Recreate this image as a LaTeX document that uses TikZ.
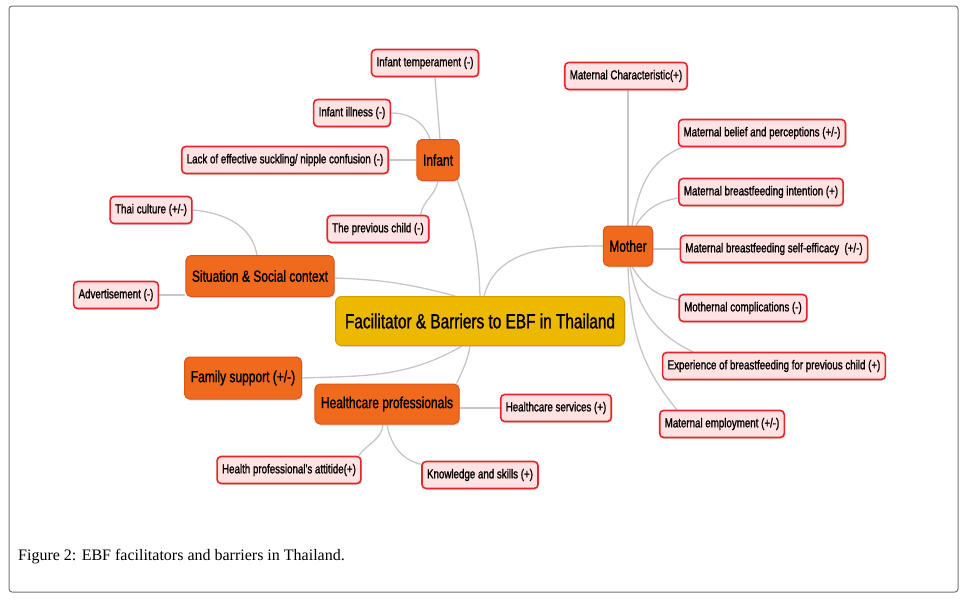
\documentclass[tikz,border=0pt]{standalone}
\usepackage{fontspec}
\setmainfont{Liberation Serif}
\newfontfamily\nodefont[FakeStretch=0.75,FakeBold=1.2]{Liberation Sans}
\usetikzlibrary{shadows,calc,backgrounds}
\definecolor{leafred}{HTML}{E3262B}
\definecolor{leaffill}{HTML}{FFE2E2}
\definecolor{hubfill}{HTML}{F06A1E}
\definecolor{hubborder}{HTML}{D8561A}
\definecolor{mainfill}{HTML}{EDB900}
\definecolor{mainborder}{HTML}{D19E00}
\definecolor{conncol}{HTML}{C6C6C6}
\begin{document}
\begin{tikzpicture}[x=1pt,y=-1pt,
  leaf/.style={draw=leafred, line width=1.6pt, fill=leaffill, rounded corners=4pt,
    inner xsep=5pt, minimum height=27pt, font=\nodefont\fontsize{13}{13}\selectfont,
    drop shadow={shadow xshift=1pt,shadow yshift=-1.5pt,fill=black!25}},
  hub/.style={draw=hubborder, line width=1pt, fill=hubfill, rounded corners=5pt,
    inner xsep=6pt, font=\nodefont\fontsize{16}{16}\selectfont,
    drop shadow={shadow xshift=1pt,shadow yshift=-1.5pt,fill=black!25}},
  mainbox/.style={draw=mainborder, line width=1pt, fill=mainfill, rounded corners=6pt,
    font=\nodefont\fontsize{20.5}{20.5}\selectfont,
    drop shadow={shadow xshift=1pt,shadow yshift=-1.5pt,fill=black!25}},
  conn/.style={draw=conncol, line width=1.3pt}]
\useasboundingbox (0,0) rectangle (968,600);
\draw[black!55, line width=1pt, rounded corners=3pt] (9,6) rectangle (958,592);

% central
\node[mainbox, minimum width=289pt, minimum height=49pt] (main) at (480,321) {Facilitator \& Barriers to EBF in Thailand};

% infant branch
\node[hub, minimum width=41pt, minimum height=41pt] (infant) at (438,160) {Infant};
\node[leaf] (temp) at (425,63) {Infant temperament (-)};
\node[leaf] (ill) at (352,113) {Infant illness (-)};
\node[leaf] (lack) at (285,160) {Lack of effective suckling/ nipple confusion (-)};
\node[leaf] (prev) at (378,229) {The previous child (-)};

% situation branch
\node[hub, minimum width=147pt, minimum height=41pt] (sit) at (260,276) {Situation \& Social context};
\node[leaf] (thai) at (151,210) {Thai culture (+/-)};
\node[leaf] (adv) at (116,295) {Advertisement (-)};

% family
\node[hub, minimum width=117pt, minimum height=42pt] (fam) at (243,378) {Family support (+/-)};

% healthcare
\node[hub, minimum width=144pt, minimum height=40pt] (hcp) at (387,404) {Healthcare professionals};
\node[leaf] (hcs) at (556,408) {Healthcare services (+)};
\node[leaf] (att) at (289,470) {Health professional's attitide(+)};
\node[leaf] (know) at (480,475) {Knowledge and skills (+)};

% mother branch
\node[hub, minimum width=47pt, minimum height=40pt] (mother) at (628,246) {Mother};
\node[leaf] (mchar) at (626,76) {Maternal Characteristic(+)};
\node[leaf] (belief) at (762,133) {Maternal belief and perceptions (+/-)};
\node[leaf] (intent) at (761,192) {Maternal breastfeeding intention (+)};
\node[leaf] (selfeff) at (774,249) {Maternal breastfeeding self-efficacy\ \ (+/-)};
\node[leaf] (comp) at (743,308) {Mothernal complications (-)};
\node[leaf] (exp) at (774,366) {Experience of breastfeeding for previous child (+)};
\node[leaf] (employ) at (722,424) {Maternal employment (+/-)};

% caption
\node[anchor=base west, inner sep=0pt, font=\fontsize{16}{16}\selectfont] (cap) at (18,560) {Figure 2: EBF facilitators and barriers in Thailand.};

\begin{scope}[on background layer]
% to main
\draw[conn] ($(infant.south east)+(-2,0)$) to[out=-70,in=92] (main.north);
\draw[conn] ($(sit.east)+(0,2)$) to[out=-2,in=165] ($(main.north)+(-25,0)$);
\draw[conn] (mother.west) to[out=180,in=75] ($(main.north)+(4,0)$);
\draw[conn] (fam.east) to[out=2,in=-150] ($(main.south)+(-18,0)$);
\draw[conn] ($(hcp.north east)+(-3,0)$) to[out=65,in=-100] ($(main.south)+(-10,0)$);
% infant
\draw[conn] ($(temp.south)+(10,0)$) -- ($(infant.north)+(2,0)$);
\draw[conn] (ill.east) to[out=0,in=110] ($(infant.north)+(-8,0)$);
\draw[conn] (lack.east) -- (infant.west);
\draw[conn] ($(prev.north east)+(-9,0)$) to[out=80,in=-100] (infant.south);
% situation
\draw[conn] (thai.east) to[out=-5,in=100] ($(sit.north)+(-3,0)$);
\draw[conn] (adv.east) -- (adv.east -| sit.west);
% healthcare
\draw[conn] (hcs.west) -- (hcs.west -| hcp.east);
\draw[conn] ($(att.north east)+(-3,0)$) to[out=55,in=-95] ($(hcp.south)+(-4,0)$);
\draw[conn] (hcp.south) to[out=-80,in=170] ($(know.north west)+(2,4)$);
% mother
\draw[conn] ($(mchar.south)+(2,0)$) -- (mother.north);
\draw[conn] ($(belief.south west)+(5,0)$) to[out=-160,in=80] ($(mother.north)+(4,0)$);
\draw[conn] ($(intent.west)+(0,6)$) to[out=-170,in=60] ($(mother.north)+(8,0)$);
\draw[conn] (selfeff.west) -- (selfeff.west -| mother.east);
\draw[conn] ($(comp.west)+(0,-8)$) to[out=170,in=-60] ($(mother.south)+(4,0)$);
\draw[conn] ($(exp.north west)+(31,0)$) to[out=155,in=-80] ($(mother.south)+(2,0)$);
\draw[conn] ($(employ.north west)+(18,0)$) to[out=130,in=-88] (mother.south);
\end{scope}
\end{tikzpicture}
\end{document}
